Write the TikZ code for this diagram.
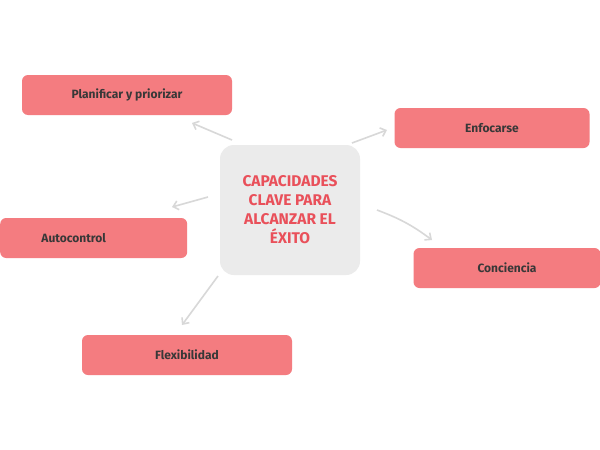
\documentclass[tikz,border=0pt]{standalone}
\usepackage{fontspec}
\setmainfont{Fira Sans}
\usetikzlibrary{arrows.meta}
\definecolor{pinkb}{HTML}{F47C80}
\definecolor{redt}{HTML}{E9505A}
\definecolor{grayb}{HTML}{EBEBEB}
\definecolor{arr}{HTML}{D8D8D8}
\begin{document}
\begin{tikzpicture}[x=1pt,y=-1pt,
 leaf/.style={fill=pinkb,rounded corners=6pt,inner sep=0pt,font=\fontsize{12}{14}\selectfont\bfseries,text=black!78},
 con/.style={draw=arr,line width=1.6pt,-{Straight Barb[length=5pt,width=9pt]}}]
\useasboundingbox (0,0) rectangle (600,450);
\fill[white] (0,0) rectangle (600,450);
\node[fill=grayb,rounded corners=14pt,minimum width=140pt,minimum height=130pt,align=center,text=redt,font=\fontsize{15.5}{19}\selectfont\bfseries] (c) at (290,210) {CAPACIDADES\\CLAVE PARA\\ALCANZAR EL\\ÉXITO};
\node[leaf,minimum width=210pt,minimum height=40pt] (p) at (127,95) {Planificar y priorizar};
\node[leaf,minimum width=195pt,minimum height=40pt] (e) at (492,128) {Enfocarse};
\node[leaf,minimum width=187pt,minimum height=40pt,anchor=west] (a) at (0,238) {\hspace*{-40pt}Autocontrol};
\node[leaf,minimum width=187pt,minimum height=40pt] (k) at (507,268) {Conciencia};
\node[leaf,minimum width=210pt,minimum height=40pt] (f) at (187,355) {Flexibilidad};
\coordinate (p1) at (232,140); \coordinate (p2) at (192,123);
\coordinate (e1) at (352,143); \coordinate (e2) at (387,130);
\coordinate (a1) at (208,197); \coordinate (a2) at (172,207);
\coordinate (k1) at (377,210); \coordinate (k2) at (432,240);
\coordinate (f1) at (218,276); \coordinate (f2) at (182,325);
\draw[con] (p1) -- (p2);
\draw[con] (e1) -- (e2);
\draw[con] (a1) -- (a2);
\draw[con] (k1) to[bend left=8] (k2);
\draw[con] (f1) -- (f2);
\end{tikzpicture}
\end{document}
